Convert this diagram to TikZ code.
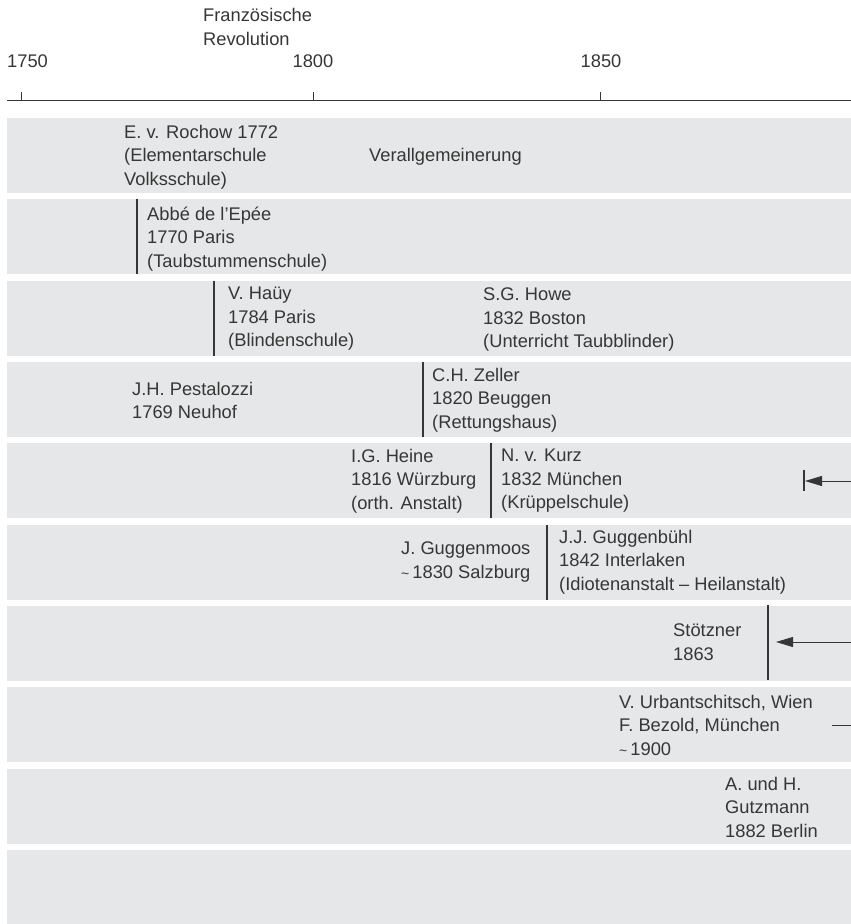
\documentclass[tikz,border=0pt]{standalone}
\usepackage{fontspec}
\setmainfont{Liberation Sans}
\usetikzlibrary{arrows.meta}
\definecolor{bandgray}{HTML}{E6E7E8}
\definecolor{inkgray}{HTML}{363636}
\newcommand{\circa}{{\fontsize{14}{14}\selectfont\textasciitilde}\,}

\begin{document}
\begin{tikzpicture}[x=1pt,y=-1pt]
   \tikzset{band/.style={fill=bandgray}}
   \tikzset{label/.style={anchor=north west,inner sep=0pt,align=left,text=inkgray,font=\fontsize{18.3}{23.3}\selectfont}}
   \tikzset{axisline/.style={draw=inkgray,line width=0.9pt}}
   \tikzset{divider/.style={draw=inkgray,line width=1.3pt}}
   \tikzset{pointer/.style={draw=inkgray,line width=1pt,-{Triangle[length=17pt,width=10pt]}}}
   \useasboundingbox (0,0) rectangle (851,924);
   \foreach \i in {0,...,9}
      \fill[band] (7,118+81.33*\i) rectangle (851,{min(924,193+81.33*\i)});
   \coordinate (axisL) at (7,100);
   \coordinate (axisR) at (851,100);
   \draw[axisline] (axisL) -- (axisR);
   \foreach \x in {21,313,600}
      \draw[axisline] (\x,100) -- (\x,92);
   \node[label] (revolution) at (203,8) {Französische\\[0.7pt]Revolution};
   \node[label] (y1750) at (7,55) {1750};
   \node[label,anchor=north] (y1800) at (313,55) {1800};
   \node[label,anchor=north] (y1850) at (601,55) {1850};
   \node[label] (rochow) at (124,125) {E. v. Rochow 1772\\(Elementarschule\\Volksschule)};
   \node[label] (verall) at (369,148) {Verallgemeinerung};
   \draw[divider] (137,199.33) -- (137,274.33);
   \node[label] (epee) at (147,207) {Abbé de l’Epée\\1770 Paris\\(Taubstummenschule)};
   \draw[divider] (214,280.66) -- (214,355.66);
   \node[label] (hauy) at (228,287) {V. Haüy\\1784 Paris\\(Blindenschule)};
   \node[label] (howe) at (483,288) {S.G. Howe\\1832 Boston\\(Unterricht Taubblinder)};
   \node[label] (pestalozzi) at (132,382) {J.H. Pestalozzi\\1769 Neuhof};
   \draw[divider] (423,362) -- (423,437);
   \node[label] (zeller) at (432,368) {C.H. Zeller\\1820 Beuggen\\(Rettungshaus)};
   \node[label] (heine) at (351,449) {I.G. Heine\\1816 Würzburg\\(orth. Anstalt)};
   \draw[divider] (491,443.33) -- (491,518.33);
   \node[label] (kurz) at (501,449) {N. v. Kurz\\1832 München\\(Krüppelschule)};
   \draw[divider] (804,470) -- (804,491);
   \coordinate (kurzR) at (851,481);
   \coordinate (kurzL) at (805,481);
   \draw[pointer] (kurzR) -- (kurzL);
   \node[label] (guggenmoos) at (401,542) {J. Guggenmoos\\\circa 1830 Salzburg};
   \draw[divider] (547,524.66) -- (547,599.66);
   \node[label] (guggenbuehl) at (559,530) {J.J. Guggenbühl\\1842 Interlaken\\(Idiotenanstalt – Heilanstalt)};
   \node[label] (stoetzner) at (673,624) {Stötzner\\1863};
   \draw[divider] (768,605) -- (768,680);
   \coordinate (stoetznerR) at (851,642);
   \coordinate (stoetznerL) at (776,642);
   \draw[pointer] (stoetznerR) -- (stoetznerL);
   \node[label] (urbantschitsch) at (619,695) {V. Urbantschitsch, Wien\\F. Bezold, München\\\circa 1900};
   \coordinate (bezoldR) at (851,725);
   \coordinate (bezoldL) at (832,725);
   \draw[axisline] (bezoldL) -- (bezoldR);
   \node[label] (gutzmann) at (725,777) {A. und H.\\Gutzmann\\1882 Berlin};
\end{tikzpicture}
\end{document}
